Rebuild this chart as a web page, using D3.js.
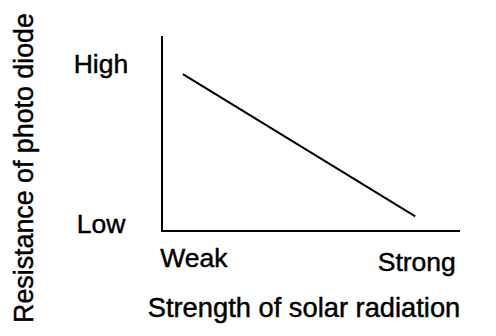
<!DOCTYPE html>
<html>
<head>
<meta charset="utf-8">
<script src="https://cdn.jsdelivr.net/npm/d3@7"></script>
<style>
  html, body { margin: 0; padding: 0; background: #fff; }
  svg { display: block; font-family: "Liberation Sans", Arial, sans-serif; }
  svg text { fill: #000; stroke: #000; stroke-width: 0.45px; }
</style>
</head>
<body>
<div id="chart"></div>
<script>
// Resistance falls as solar radiation gets stronger (qualitative sketch)
const lineX = [0.7, 8.5];
const lineY = [8.05, 0.75];

const xTickLabels = ["Weak", "Strong"];
const xTickValues = [1.07, 8.55];
const xTickBaselines = [267, 271];

const yTickLabels = ["High", "Low"];
const yTickValues = [8.6, 0.4];

const width = 496, height = 336;
const margin = { top: 36, right: 36, bottom: 105, left: 162 };

const svg = d3.select("#chart").append("svg")
    .attr("width", width)
    .attr("height", height);

const x = d3.scaleLinear()
    .domain([0, 10])
    .range([margin.left, width - margin.right]);

const y = d3.scaleLinear()
    .domain([0, 10])
    .range([height - margin.bottom, margin.top]);

// axes drawn as plain lines, no ticks
svg.append("line")
    .attr("x1", x(0)).attr("x2", x(0))
    .attr("y1", y(10)).attr("y2", y(0))
    .attr("stroke", "#000").attr("stroke-width", 2)
    .attr("shape-rendering", "crispEdges");

svg.append("line")
    .attr("x1", x(0) - 1).attr("x2", x(10))
    .attr("y1", y(0)).attr("y2", y(0))
    .attr("stroke", "#000").attr("stroke-width", 2)
    .attr("shape-rendering", "crispEdges");

// the relationship line
const pts = lineX.map((d, i) => [d, lineY[i]]);
svg.append("path")
    .datum(pts)
    .attr("fill", "none")
    .attr("stroke", "#000")
    .attr("stroke-width", 2)
    .attr("d", d3.line().x(d => x(d[0])).y(d => y(d[1])));

// category labels
svg.selectAll(".ylab")
    .data(yTickLabels)
    .join("text")
    .attr("class", "ylab")
    .attr("x", 101)
    .attr("y", (d, i) => y(yTickValues[i]) + 9.5)
    .attr("text-anchor", "middle")
    .attr("font-size", 26.5)
    .text(d => d);

svg.selectAll(".xlab")
    .data(xTickLabels)
    .join("text")
    .attr("class", "xlab")
    .attr("x", (d, i) => x(xTickValues[i]))
    .attr("y", (d, i) => xTickBaselines[i])
    .attr("text-anchor", "middle")
    .attr("font-size", 26.5)
    .text(d => d);

// axis titles
svg.append("text")
    .attr("x", 304)
    .attr("y", 317)
    .attr("text-anchor", "middle")
    .attr("font-size", 27.3)
    .text("Strength of solar radiation");

svg.append("text")
    .attr("transform", "translate(32.5,168) rotate(-90)")
    .attr("text-anchor", "middle")
    .attr("font-size", 26.8)
    .text("Resistance of photo diode");
</script>
</body>
</html>
